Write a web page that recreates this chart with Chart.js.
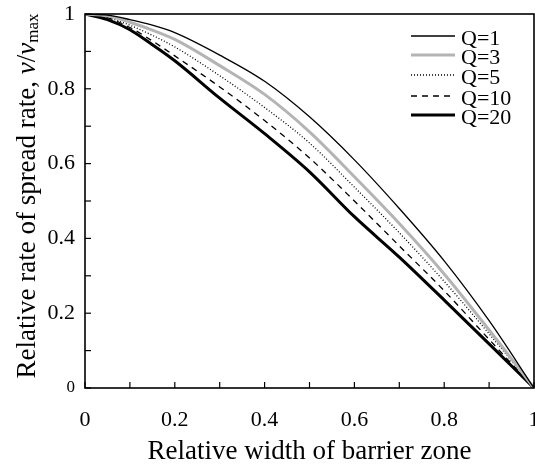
<!DOCTYPE html>
<html>
<head>
<meta charset="utf-8">
<script src="https://cdn.jsdelivr.net/npm/chart.js@4.4.1/dist/chart.umd.min.js"></script>
<style>
  html, body { margin: 0; padding: 0; background: #fff; }
  #wrap { width: 535px; height: 469px; }
</style>
</head>
<body>
<div id="wrap"><canvas id="c" width="535" height="469"></canvas></div>
<script>
// ---- data ----
const xValues = [0, 0.05, 0.1, 0.15, 0.2, 0.3, 0.4, 0.5, 0.6, 0.7, 0.8, 0.9, 1];
const q1  = [1, 0.997, 0.985, 0.970, 0.950, 0.890, 0.820, 0.725, 0.610, 0.480, 0.340, 0.180, 0];
const q3  = [1, 0.995, 0.978, 0.957, 0.932, 0.862, 0.785, 0.685, 0.565, 0.440, 0.305, 0.155, 0];
const q5  = [1, 0.990, 0.970, 0.943, 0.912, 0.835, 0.750, 0.655, 0.537, 0.415, 0.285, 0.145, 0];
const q10 = [1, 0.990, 0.964, 0.928, 0.888, 0.805, 0.715, 0.615, 0.500, 0.380, 0.260, 0.130, 0];
const q20 = [1, 0.985, 0.958, 0.918, 0.875, 0.775, 0.680, 0.578, 0.458, 0.350, 0.235, 0.118, 0];
const seriesLabels = ['Q=1', 'Q=3', 'Q=5', 'Q=10', 'Q=20'];
const tickValues = [0, 0.1, 0.2, 0.3, 0.4, 0.5, 0.6, 0.7, 0.8, 0.9, 1];
const xTitle = 'Relative width of barrier zone';
const yTitleMain = 'Relative rate of spread rate, ';

const SERIF = '"Liberation Serif", "Times New Roman", serif';
const pts = arr => xValues.map((x, i) => ({x: x, y: arr[i]}));

const styles = [
  {borderColor: '#000000', borderWidth: 1.3, borderDash: []},
  {borderColor: '#b4b4b4', borderWidth: 3, borderDash: []},
  {borderColor: '#000000', borderWidth: 1.3, borderDash: [1, 2]},
  {borderColor: '#000000', borderWidth: 1.3, borderDash: [6, 5]},
  {borderColor: '#000000', borderWidth: 3, borderDash: []}
];
const seriesData = [q1, q3, q5, q10, q20];

const datasets = seriesData.map((arr, i) => Object.assign({
  label: seriesLabels[i],
  data: pts(arr),
  pointRadius: 0,
  fill: false,
  cubicInterpolationMode: 'monotone'
}, styles[i]));

// frame, inward ticks, legend, rich y title
const decor = {
  id: 'decor',
  afterDraw(chart) {
    const ctx = chart.ctx;
    const a = chart.chartArea;
    const xs = chart.scales.x, ys = chart.scales.y;
    ctx.save();
    ctx.strokeStyle = '#000';
    ctx.lineWidth = 1.6;
    ctx.setLineDash([]);
    ctx.strokeRect(a.left, a.top, a.right - a.left, a.bottom - a.top);
    ctx.lineWidth = 1.2;
    tickValues.forEach(v => {
      const px = xs.getPixelForValue(v);
      ctx.beginPath(); ctx.moveTo(px, a.bottom); ctx.lineTo(px, a.bottom - 6); ctx.stroke();
      const py = ys.getPixelForValue(v);
      ctx.beginPath(); ctx.moveTo(a.left, py); ctx.lineTo(a.left + 6, py); ctx.stroke();
    });
    // legend
    const lx0 = 411, lx1 = 455, tx = 461;
    const ly = [36, 55, 75, 96, 115];
    ctx.font = '22px ' + SERIF;
    ctx.textBaseline = 'middle';
    ctx.textAlign = 'left';
    chart.data.datasets.forEach((d, i) => {
      ctx.strokeStyle = d.borderColor;
      ctx.lineWidth = d.borderWidth;
      ctx.setLineDash(d.borderDash || []);
      ctx.beginPath(); ctx.moveTo(lx0, ly[i]); ctx.lineTo(lx1, ly[i]); ctx.stroke();
      ctx.fillStyle = '#000';
      ctx.fillText(d.label, tx, ly[i] + 3);
    });
    ctx.setLineDash([]);
    // y title with italic v and subscript
    const fMain = '27px ' + SERIF, fIt = 'italic 27px ' + SERIF, fSub = '17px ' + SERIF;
    const parts = [
      {t: yTitleMain, f: fMain, dy: 0},
      {t: 'v', f: fIt, dy: 0},
      {t: '/', f: fMain, dy: 0},
      {t: 'v', f: fIt, dy: 0},
      {t: 'max', f: fSub, dy: 6}
    ];
    let total = 0;
    parts.forEach(p => { ctx.font = p.f; p.w = ctx.measureText(p.t).width; total += p.w; });
    ctx.translate(27, 196);
    ctx.rotate(-Math.PI / 2);
    ctx.fillStyle = '#000';
    ctx.textBaseline = 'middle';
    let cx = -total / 2;
    parts.forEach(p => { ctx.font = p.f; ctx.fillText(p.t, cx, p.dy + 1); cx += p.w; });
    ctx.restore();
  }
};

const fmt = v => {
  const r = Math.round(v * 10);
  if (r % 2 !== 0) return '';
  return r === 10 ? '1' : (r === 0 ? '0' : (r / 10).toFixed(1));
};

new Chart(document.getElementById('c'), {
  type: 'line',
  data: {datasets: datasets},
  options: {
    responsive: false,
    animation: false,
    devicePixelRatio: 1,
    layout: {padding: {left: 0, top: 14, right: 1, bottom: 0}},
    plugins: {legend: {display: false}, tooltip: {enabled: false}},
    scales: {
      x: {
        type: 'linear', min: 0, max: 1,
        grid: {display: false, drawTicks: false},
        border: {display: false},
        ticks: {
          stepSize: 0.2, padding: 19, maxRotation: 0, autoSkip: false,
          color: '#000', font: {family: SERIF, size: 22},
          callback: v => fmt(v)
        },
        title: {display: true, text: xTitle, color: '#000', font: {family: SERIF, size: 27}, padding: {top: 0, bottom: 1}},
        afterFit: s => { s.height = 81; s.paddingLeft = 0; s.paddingRight = 0; }
      },
      y: {
        type: 'linear', min: 0, max: 1,
        grid: {display: false, drawTicks: false},
        border: {display: false},
        ticks: {
          stepSize: 0.2, padding: 10, autoSkip: false,
          color: '#000',
          font: c => ({family: SERIF, size: (c.tick && c.tick.value === 0) ? 17 : 22}),
          callback: v => fmt(v)
        },
        afterFit: s => { s.width = 85; s.paddingTop = 0; s.paddingBottom = 0; }
      }
    }
  },
  plugins: [decor]
});
</script>
</body>
</html>
